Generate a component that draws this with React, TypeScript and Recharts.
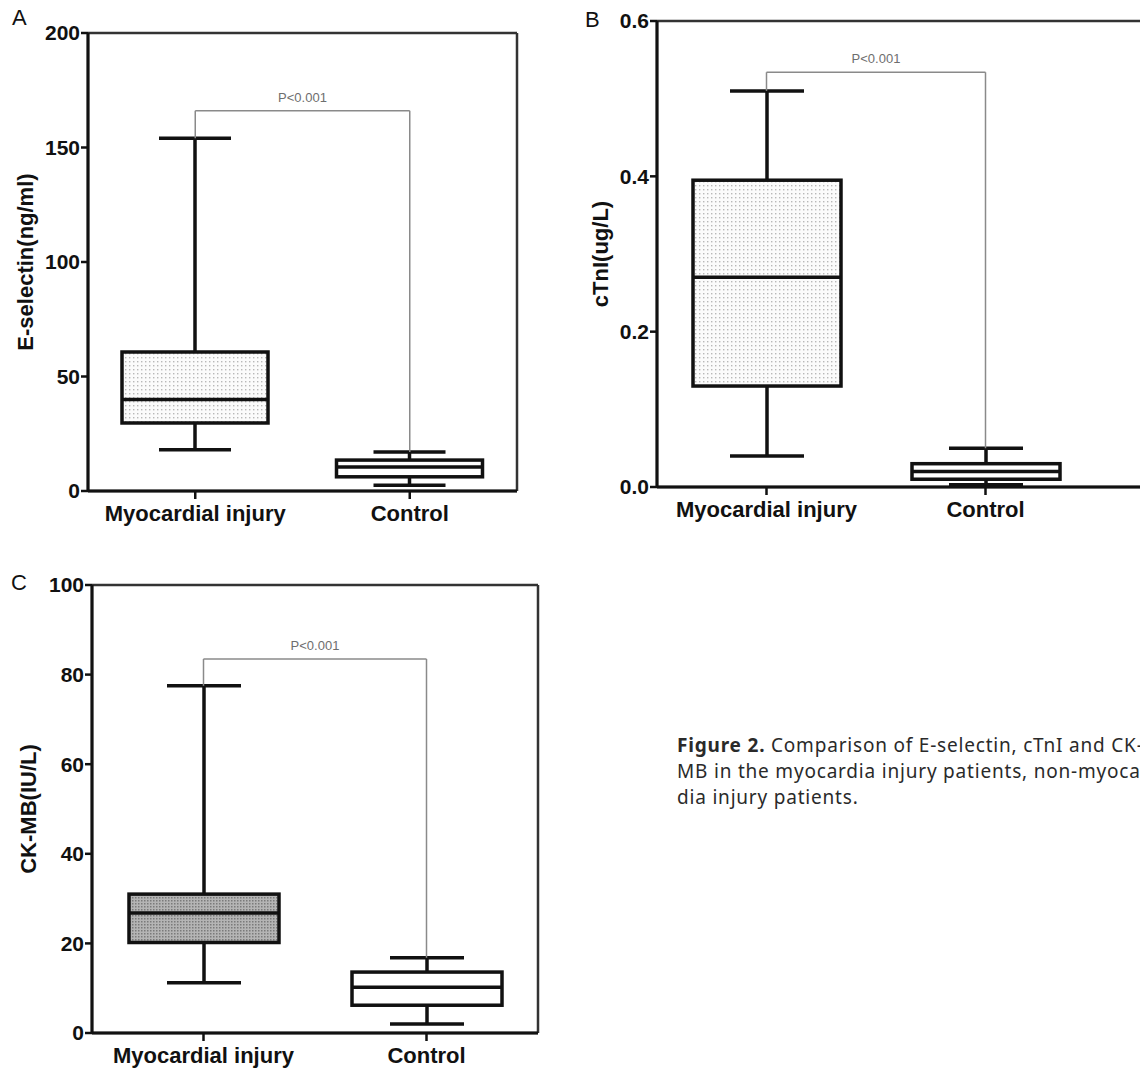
import React from "react";
import { ComposedChart, Bar, Scatter, XAxis, YAxis, CartesianGrid, ReferenceLine } from "recharts";

const FONT = "'Liberation Sans', Arial, Helvetica, sans-serif";

const groups = ["Myocardial injury", "Control"];

// A: E-selectin (ng/ml)
const eselMin = [18, 2.5];
const eselQ1 = [29.7, 6.2];
const eselMedian = [40, 10.5];
const eselQ3 = [60.7, 13.5];
const eselMax = [154, 17];
const eselTicks = [0, 50, 100, 150, 200];

// B: cTnI (ug/L)
const ctniMin = [0.04, 0.003];
const ctniQ1 = [0.13, 0.01];
const ctniMedian = [0.27, 0.02];
const ctniQ3 = [0.395, 0.03];
const ctniMax = [0.51, 0.05];
const ctniTicks = [0, 0.2, 0.4, 0.6];

// C: CK-MB (IU/L)
const ckmbMin = [11.2, 2.0];
const ckmbQ1 = [20.2, 6.2];
const ckmbMedian = [26.8, 10.2];
const ckmbQ3 = [31, 13.6];
const ckmbMax = [77.5, 16.8];
const ckmbTicks = [0, 20, 40, 60, 80, 100];

// height of the P-value bracket in each panel
const bracketLevel = [166, 0.534, 83.5];
const pLabel = "P<0.001";

type Row = { name: string; whisker: number[]; box: number[]; median: number; boxFill: string };

function buildRows(min: number[], q1: number[], med: number[], q3: number[], max: number[], fills: string[]): Row[] {
  return groups.map((name, i) => ({
    name,
    whisker: [min[i], max[i]],
    box: [q1[i], q3[i]],
    median: med[i],
    boxFill: fills[i],
  }));
}

function WhiskerShape(props: any) {
  const { x, y, width, height } = props;
  if (x == null || y == null) return null;
  const cx = x + width / 2;
  const top = Math.min(y, y + height);
  const bot = Math.max(y, y + height);
  return (
    <g stroke="#111" strokeWidth={3.5}>
      <line x1={cx} x2={cx} y1={top} y2={bot} />
      <line x1={x} x2={x + width} y1={top} y2={top} />
      <line x1={x} x2={x + width} y1={bot} y2={bot} />
    </g>
  );
}

function BoxShape(props: any) {
  const { x, y, width, height, payload } = props;
  if (x == null || y == null) return null;
  return (
    <rect
      x={x}
      y={Math.min(y, y + height)}
      width={width}
      height={Math.abs(height)}
      fill={payload.boxFill}
      stroke="#111"
      strokeWidth={3.5}
    />
  );
}

const medianShape = (half: number) => (props: any) => {
  const { cx, cy } = props;
  if (cx == null || cy == null) return <g />;
  return <line x1={cx - half} x2={cx + half} y1={cy} y2={cy} stroke="#111" strokeWidth={3.5} />;
};

const yTitle = (text: string, dx: number) => (props: any) => {
  const vb = props.viewBox;
  if (!vb) return null;
  const cx = vb.x + dx;
  const cy = vb.y + vb.height / 2;
  return (
    <text
      x={cx}
      y={cy}
      transform={`rotate(-90 ${cx} ${cy})`}
      textAnchor="middle"
      dominantBaseline="central"
      fill="#111"
      style={{ fontFamily: FONT, fontWeight: 700, fontSize: 22 }}
    >
      {text}
    </text>
  );
};

type PanelProps = {
  id: string;
  rows: Row[];
  bracket: number;
  domain: number[];
  ticks: number[];
  tickFmt?: (v: number) => string;
  title: string;
  titleDx: number;
  width: number;
  height: number;
  margin: { top: number; right: number; bottom: number; left: number };
  yWidth: number;
  padRight: number;
  boxW: number;
  capW: number;
};

function BoxPanel(p: PanelProps) {
  const pad = { left: 0, right: p.padRight };
  const tickStyle = { fill: "#111", fontSize: 21, fontWeight: 700, fontFamily: FONT };
  return (
    <ComposedChart width={p.width} height={p.height} data={p.rows} margin={p.margin}>
      <defs>
        <pattern id={`dots-${p.id}`} width="4" height="4" patternUnits="userSpaceOnUse">
          <rect width="4" height="4" fill="#fbfbfb" />
          <rect x="1" y="1" width="1.4" height="1.4" fill="#b8b8b8" />
        </pattern>
        <pattern id={`hatch-${p.id}`} width="3" height="3" patternUnits="userSpaceOnUse">
          <rect width="3" height="3" fill="#b4b4b4" />
          <rect x="0" y="0" width="1.5" height="1.5" fill="#7a7a7a" />
        </pattern>
      </defs>
      <CartesianGrid
        stroke="#333"
        strokeWidth={2.5}
        horizontalCoordinatesGenerator={({ offset }: any) => [offset.top, offset.top + offset.height]}
        verticalCoordinatesGenerator={({ offset }: any) => [offset.left, offset.left + offset.width]}
      />
      <XAxis
        dataKey="name"
        height={54}
        padding={pad}
        interval={0}
        tickSize={8}
        tickMargin={6}
        tick={{ ...tickStyle, fontSize: 22 }}
        tickLine={{ stroke: "#111", strokeWidth: 2.5 }}
        axisLine={{ stroke: "#111", strokeWidth: 3 }}
      />
      <XAxis xAxisId="w" dataKey="name" hide padding={pad} />
      <XAxis xAxisId="b" dataKey="name" hide padding={pad} />
      <YAxis
        type="number"
        width={p.yWidth}
        domain={p.domain}
        ticks={p.ticks}
        tickFormatter={p.tickFmt}
        tickSize={7}
        tickMargin={1}
        tick={tickStyle}
        tickLine={{ stroke: "#111", strokeWidth: 2.5 }}
        axisLine={{ stroke: "#111", strokeWidth: 3 }}
        label={{ content: yTitle(p.title, p.titleDx) }}
      />
      <ReferenceLine
        segment={[{ x: groups[0], y: p.bracket }, { x: groups[1], y: p.bracket }]}
        stroke="#8a8a8a"
        strokeWidth={1.5}
        label={{ value: pLabel, position: "top", offset: 9, fill: "#6e6e6e", fontSize: 13, fontFamily: FONT }}
      />
      <ReferenceLine
        segment={[{ x: groups[0], y: p.rows[0].whisker[1] }, { x: groups[0], y: p.bracket }]}
        stroke="#8a8a8a"
        strokeWidth={1.5}
      />
      <ReferenceLine
        segment={[{ x: groups[1], y: p.rows[1].whisker[1] }, { x: groups[1], y: p.bracket }]}
        stroke="#8a8a8a"
        strokeWidth={1.5}
      />
      <Bar xAxisId="w" dataKey="whisker" barSize={p.capW} shape={WhiskerShape} isAnimationActive={false} />
      <Bar xAxisId="b" dataKey="box" barSize={p.boxW} shape={BoxShape} isAnimationActive={false} />
      <Scatter dataKey="median" shape={medianShape(p.boxW / 2)} isAnimationActive={false} />
    </ComposedChart>
  );
}

const letterStyle: React.CSSProperties = {
  position: "absolute",
  fontFamily: FONT,
  fontSize: 22,
  lineHeight: "22px",
  color: "#111",
};

export default function App() {
  const rowsA = buildRows(eselMin, eselQ1, eselMedian, eselQ3, eselMax, ["url(#dots-a)", "#fff"]);
  const rowsB = buildRows(ctniMin, ctniQ1, ctniMedian, ctniQ3, ctniMax, ["url(#dots-b)", "#fff"]);
  const rowsC = buildRows(ckmbMin, ckmbQ1, ckmbMedian, ckmbQ3, ckmbMax, ["url(#hatch-c)", "#fff"]);

  return (
    <div
      style={{
        position: "absolute",
        left: 0,
        top: 0,
        width: 1140,
        height: 1071,
        overflow: "hidden",
        background: "#fff",
      }}
    >
      <div style={{ position: "absolute", left: 0, top: 0 }}>
        <BoxPanel
          id="a"
          rows={rowsA}
          bracket={bracketLevel[0]}
          domain={[0, 200]}
          ticks={eselTicks}
          title="E-selectin(ng/ml)"
          titleDx={25}
          width={540}
          height={545}
          margin={{ top: 33, right: 23, bottom: 0, left: 0 }}
          yWidth={88}
          padRight={0}
          boxW={146}
          capW={72}
        />
      </div>
      <div style={{ position: "absolute", left: 570, top: 0 }}>
        <BoxPanel
          id="b"
          rows={rowsB}
          bracket={bracketLevel[1]}
          domain={[0, 0.6]}
          ticks={ctniTicks}
          tickFmt={(v) => v.toFixed(1)}
          title="cTnI(ug/L)"
          titleDx={30}
          width={590}
          height={541}
          margin={{ top: 21, right: 0, bottom: 0, left: 0 }}
          yWidth={87}
          padRight={65}
          boxW={148}
          capW={74}
        />
      </div>
      <div style={{ position: "absolute", left: 0, top: 570 }}>
        <BoxPanel
          id="c"
          rows={rowsC}
          bracket={bracketLevel[2]}
          domain={[0, 100]}
          ticks={ckmbTicks}
          title="CK-MB(IU/L)"
          titleDx={28}
          width={540}
          height={517}
          margin={{ top: 15, right: 2, bottom: 0, left: 0 }}
          yWidth={92}
          padRight={0}
          boxW={150}
          capW={74}
        />
      </div>

      <div style={{ ...letterStyle, left: 12, top: 7 }}>A</div>
      <div style={{ ...letterStyle, left: 585, top: 9 }}>B</div>
      <div style={{ ...letterStyle, left: 11, top: 572 }}>C</div>

      <div
        style={{
          position: "absolute",
          left: 677,
          top: 732,
          fontFamily: "'Noto Sans', 'Liberation Sans', sans-serif",
          fontSize: 19,
          letterSpacing: 0.8,
          lineHeight: "26px",
          color: "#2a2a2a",
          whiteSpace: "nowrap",
        }}
      >
        <div>
          <b>Figure 2.</b> Comparison of E-selectin, cTnI and CK-
        </div>
        <div>MB in the myocardia injury patients, non-myocar-</div>
        <div>dia injury patients.</div>
      </div>
    </div>
  );
}
